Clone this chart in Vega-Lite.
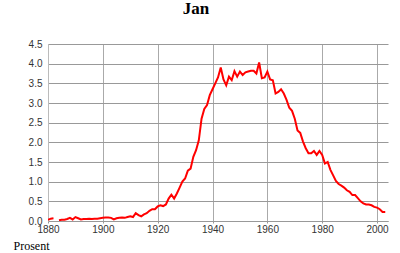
{
  "$schema": "https://vega.github.io/schema/vega-lite/v6.json",
  "width": 340,
  "height": 177,
  "autosize": "none",
  "padding": {"left": 48, "top": 44, "right": 12, "bottom": 32},
  "background": "white",
  "title": {
    "text": "Jan",
    "font": "Liberation Serif",
    "fontSize": 17,
    "fontWeight": "bold",
    "color": "#000000",
    "anchor": "middle",
    "dx": -22,
    "offset": 21
  },
  "config": {
    "view": {"stroke": null},
    "axis": {
      "labelFont": "Liberation Sans",
      "labelFontSize": 10,
      "labelColor": "#333333"
    }
  },
  "data": {
    "values": [
      {"year": 1880, "value": 0.03}, {"year": 1881, "value": 0.06}, {"year": 1882, "value": 0.07},
      {"year": 1883, "value": null},
      {"year": 1884, "value": 0.02}, {"year": 1885, "value": 0.03}, {"year": 1886, "value": 0.03},
      {"year": 1887, "value": 0.05}, {"year": 1888, "value": 0.08}, {"year": 1889, "value": 0.04},
      {"year": 1890, "value": 0.1}, {"year": 1891, "value": 0.07}, {"year": 1892, "value": 0.04},
      {"year": 1893, "value": 0.05}, {"year": 1894, "value": 0.05}, {"year": 1895, "value": 0.06},
      {"year": 1896, "value": 0.05}, {"year": 1897, "value": 0.06}, {"year": 1898, "value": 0.06},
      {"year": 1899, "value": 0.07}, {"year": 1900, "value": 0.08}, {"year": 1901, "value": 0.09},
      {"year": 1902, "value": 0.09}, {"year": 1903, "value": 0.08}, {"year": 1904, "value": 0.04},
      {"year": 1905, "value": 0.07}, {"year": 1906, "value": 0.08}, {"year": 1907, "value": 0.09},
      {"year": 1908, "value": 0.08}, {"year": 1909, "value": 0.1}, {"year": 1910, "value": 0.12},
      {"year": 1911, "value": 0.1}, {"year": 1912, "value": 0.2}, {"year": 1913, "value": 0.15},
      {"year": 1914, "value": 0.12}, {"year": 1915, "value": 0.17}, {"year": 1916, "value": 0.2},
      {"year": 1917, "value": 0.26}, {"year": 1918, "value": 0.3}, {"year": 1919, "value": 0.3},
      {"year": 1920, "value": 0.37}, {"year": 1921, "value": 0.4}, {"year": 1922, "value": 0.38},
      {"year": 1923, "value": 0.42}, {"year": 1924, "value": 0.57}, {"year": 1925, "value": 0.67},
      {"year": 1926, "value": 0.57}, {"year": 1927, "value": 0.7}, {"year": 1928, "value": 0.85},
      {"year": 1929, "value": 1.0}, {"year": 1930, "value": 1.08}, {"year": 1931, "value": 1.28},
      {"year": 1932, "value": 1.33}, {"year": 1933, "value": 1.63}, {"year": 1934, "value": 1.8},
      {"year": 1935, "value": 2.05}, {"year": 1936, "value": 2.6}, {"year": 1937, "value": 2.85},
      {"year": 1938, "value": 2.95}, {"year": 1939, "value": 3.2}, {"year": 1940, "value": 3.35},
      {"year": 1941, "value": 3.5}, {"year": 1942, "value": 3.65}, {"year": 1943, "value": 3.9},
      {"year": 1944, "value": 3.6}, {"year": 1945, "value": 3.45}, {"year": 1946, "value": 3.67},
      {"year": 1947, "value": 3.58}, {"year": 1948, "value": 3.81}, {"year": 1949, "value": 3.67},
      {"year": 1950, "value": 3.8}, {"year": 1951, "value": 3.71}, {"year": 1952, "value": 3.78},
      {"year": 1953, "value": 3.8}, {"year": 1954, "value": 3.82}, {"year": 1955, "value": 3.82},
      {"year": 1956, "value": 3.75}, {"year": 1957, "value": 4.03}, {"year": 1958, "value": 3.63},
      {"year": 1959, "value": 3.65}, {"year": 1960, "value": 3.8}, {"year": 1961, "value": 3.6},
      {"year": 1962, "value": 3.58}, {"year": 1963, "value": 3.24}, {"year": 1964, "value": 3.28},
      {"year": 1965, "value": 3.35}, {"year": 1966, "value": 3.24}, {"year": 1967, "value": 3.08},
      {"year": 1968, "value": 2.88}, {"year": 1969, "value": 2.8}, {"year": 1970, "value": 2.6},
      {"year": 1971, "value": 2.3}, {"year": 1972, "value": 2.24}, {"year": 1973, "value": 2.02},
      {"year": 1974, "value": 1.85}, {"year": 1975, "value": 1.72}, {"year": 1976, "value": 1.72},
      {"year": 1977, "value": 1.78}, {"year": 1978, "value": 1.68}, {"year": 1979, "value": 1.78},
      {"year": 1980, "value": 1.68}, {"year": 1981, "value": 1.46}, {"year": 1982, "value": 1.5},
      {"year": 1983, "value": 1.3}, {"year": 1984, "value": 1.16}, {"year": 1985, "value": 1.02},
      {"year": 1986, "value": 0.94}, {"year": 1987, "value": 0.9}, {"year": 1988, "value": 0.85},
      {"year": 1989, "value": 0.78}, {"year": 1990, "value": 0.74}, {"year": 1991, "value": 0.66},
      {"year": 1992, "value": 0.66}, {"year": 1993, "value": 0.58}, {"year": 1994, "value": 0.5},
      {"year": 1995, "value": 0.45}, {"year": 1996, "value": 0.42}, {"year": 1997, "value": 0.42},
      {"year": 1998, "value": 0.4}, {"year": 1999, "value": 0.36}, {"year": 2000, "value": 0.34},
      {"year": 2001, "value": 0.3}, {"year": 2002, "value": 0.23}, {"year": 2003, "value": 0.23}
    ]
  },
  "layer": [
    {
      "mark": {"type": "line", "color": "#ff0000", "strokeWidth": 2, "clip": true},
      "encoding": {
        "x": {
          "field": "year",
          "type": "quantitative",
          "scale": {"domain": [1880, 2004], "nice": false, "zero": false},
          "axis": {
            "values": [1880, 1900, 1920, 1940, 1960, 1980, 2000],
            "format": "d",
            "grid": true,
            "gridColor": "#aaaaaa",
            "gridWidth": 1,
            "domainColor": "#999999",
            "tickSize": 2,
            "tickColor": "#999999",
            "labelPadding": 1,
            "labelFlush": false,
            "labelOverlap": false,
            "title": "Prosent",
            "titleFont": "Liberation Serif",
            "titleFontSize": 12,
            "titleFontWeight": "normal",
            "titleColor": "#000000",
            "titleAnchor": "start",
            "titleAlign": "left",
            "titleBaseline": "alphabetic",
            "titleX": -35,
            "titleY": 28
          }
        },
        "y": {
          "field": "value",
          "type": "quantitative",
          "scale": {"domain": [0, 4.5], "nice": false},
          "axis": {
            "values": [0, 0.5, 1, 1.5, 2, 2.5, 3, 3.5, 4, 4.5],
            "format": ".1f",
            "grid": true,
            "gridColor": "#999999",
            "gridWidth": 1,
            "domainColor": "#bbbbbb",
            "ticks": false,
            "labelPadding": 6,
            "title": null
          }
        }
      }
    }
  ]
}
